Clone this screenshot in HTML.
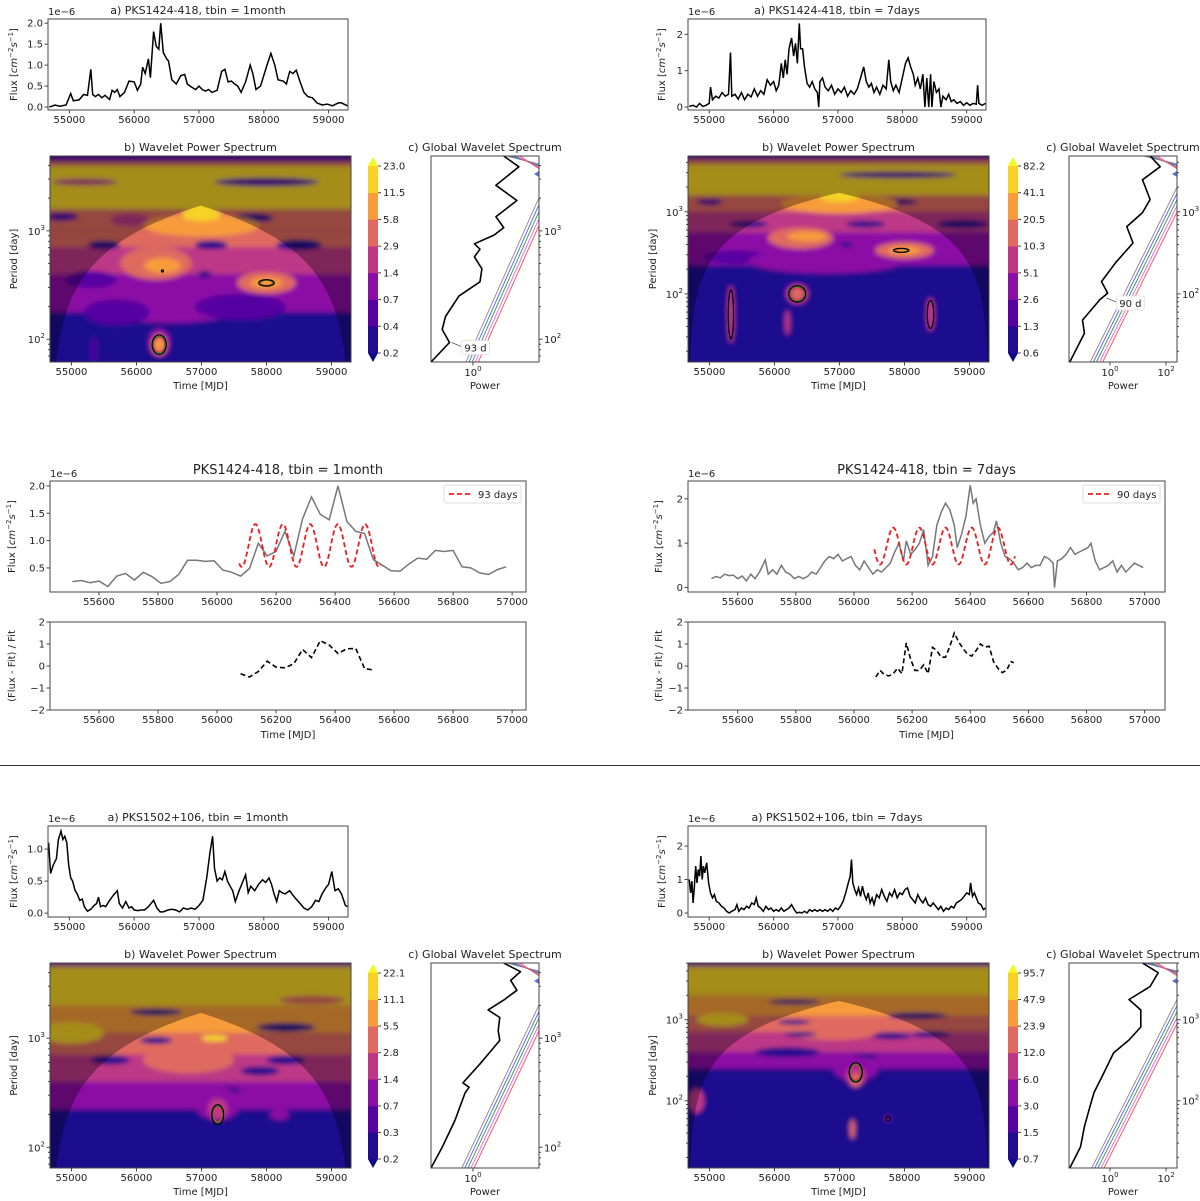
<!DOCTYPE html>
<html><head><meta charset="utf-8"><title>PKS wavelet analysis</title>
<style>
html,body{margin:0;padding:0;background:#fff;}
svg{display:block;font-family:"DejaVu Sans","Liberation Sans",sans-serif;}
</style></head>
<body>
<svg id="fig" width="1200" height="1201" viewBox="0 0 1200 1201" xmlns="http://www.w3.org/2000/svg">
<defs><filter id="blr" x="-50%" y="-50%" width="200%" height="200%"><feGaussianBlur stdDeviation="2.5"/></filter></defs>
<rect x="0" y="0" width="1200" height="1201" fill="#fff"/>
</svg>
<script>
// ---------------- DATA ----------------
const timeTicks=[55000,56000,57000,58000,59000];
const tlFluxPts=[[54690,0.0],[54780,0.05],[54850,0.02],[54950,0.05],[55020,0.32],[55060,0.15],[55150,0.17],[55220,0.3],[55280,0.28],[55330,0.9],[55360,0.3],[55400,0.25],[55450,0.3],[55500,0.22],[55550,0.28],[55620,0.18],[55660,0.4],[55700,0.35],[55740,0.42],[55780,0.25],[55850,0.35],[55920,0.62],[56000,0.6],[56050,0.4],[56100,0.55],[56130,0.95],[56170,0.8],[56220,1.15],[56250,0.7],[56300,1.8],[56340,1.45],[56380,1.38],[56410,2.0],[56450,1.3],[56500,1.15],[56530,1.1],[56580,0.65],[56650,0.55],[56720,0.75],[56780,0.78],[56820,0.55],[56880,0.48],[56950,0.42],[57000,0.5],[57050,0.42],[57100,0.38],[57150,0.42],[57200,0.35],[57280,0.4],[57350,0.85],[57400,0.9],[57450,0.6],[57500,0.62],[57550,0.55],[57600,0.5],[57650,0.35],[57720,0.6],[57790,1.0],[57830,0.8],[57880,0.42],[57950,0.5],[58050,1.0],[58110,1.28],[58170,1.0],[58220,0.65],[58300,0.62],[58350,0.55],[58400,0.85],[58450,0.8],[58500,0.88],[58560,0.6],[58620,0.35],[58680,0.25],[58750,0.22],[58820,0.1],[58900,0.05],[58980,0.07],[59060,0.03],[59150,0.1],[59200,0.1],[59290,0.03]];
const trFluxPts=[[54690,0.02],[54750,0.05],[54800,0.0],[54850,0.1],[54900,0.02],[54950,0.05],[55000,0.1],[55020,0.55],[55050,0.2],[55100,0.3],[55150,0.25],[55200,0.4],[55250,0.3],[55300,0.35],[55330,1.5],[55350,0.3],[55400,0.35],[55450,0.22],[55500,0.4],[55550,0.2],[55600,0.35],[55650,0.28],[55700,0.5],[55750,0.3],[55800,0.45],[55850,0.35],[55900,0.75],[55950,0.6],[56000,0.7],[56040,0.45],[56080,0.6],[56120,1.2],[56150,0.8],[56180,1.3],[56210,0.9],[56240,1.6],[56280,1.9],[56310,1.4],[56340,1.75],[56370,1.2],[56400,2.3],[56420,1.6],[56450,1.6],[56480,1.1],[56520,0.65],[56560,0.55],[56600,0.7],[56640,0.5],[56680,0.4],[56700,0.0],[56720,0.7],[56760,0.8],[56800,0.55],[56850,0.45],[56900,0.6],[56950,0.35],[57000,0.5],[57050,0.4],[57100,0.55],[57150,0.3],[57200,0.45],[57250,0.35],[57300,0.5],[57350,0.8],[57400,1.1],[57440,0.7],[57480,0.55],[57520,0.65],[57560,0.4],[57600,0.55],[57650,0.35],[57700,0.6],[57750,0.5],[57790,1.3],[57820,0.7],[57860,0.45],[57900,0.6],[57950,0.4],[58000,0.8],[58050,1.2],[58090,1.35],[58130,1.1],[58170,0.9],[58200,0.6],[58240,0.8],[58280,0.5],[58320,0.9],[58350,0.0],[58380,0.8],[58410,0.0],[58440,0.9],[58460,0.0],[58490,0.7],[58530,0.4],[58570,0.5],[58600,0.0],[58630,0.3],[58680,0.2],[58720,0.35],[58760,0.15],[58800,0.2],[58850,0.1],[58900,0.15],[58950,0.05],[59000,0.12],[59050,0.05],[59100,0.1],[59150,0.08],[59170,0.6],[59190,0.1],[59240,0.05],[59290,0.1]];
const blFluxPts=[[54680,1.1],[54710,0.62],[54750,0.75],[54800,0.85],[54830,1.15],[54870,1.28],[54900,1.15],[54930,1.2],[54960,1.1],[54990,0.75],[55020,0.55],[55050,0.5],[55090,0.35],[55120,0.3],[55160,0.2],[55200,0.22],[55230,0.1],[55280,0.03],[55330,0.06],[55380,0.12],[55420,0.15],[55450,0.25],[55480,0.1],[55520,0.12],[55560,0.1],[55620,0.2],[55680,0.28],[55740,0.35],[55770,0.15],[55820,0.08],[55870,0.18],[55920,0.08],[55960,0.1],[56000,0.05],[56060,0.04],[56100,0.05],[56160,0.05],[56220,0.1],[56300,0.2],[56350,0.08],[56400,0.02],[56450,0.02],[56520,0.05],[56580,0.06],[56640,0.05],[56700,0.02],[56760,0.08],[56820,0.06],[56880,0.08],[56940,0.06],[57000,0.12],[57060,0.2],[57120,0.55],[57170,0.95],[57210,1.2],[57240,0.7],[57280,0.5],[57320,0.55],[57360,0.52],[57400,0.65],[57440,0.5],[57480,0.42],[57520,0.35],[57560,0.18],[57620,0.35],[57680,0.5],[57720,0.6],[57760,0.32],[57800,0.42],[57860,0.35],[57920,0.45],[57980,0.52],[58030,0.48],[58080,0.55],[58120,0.45],[58160,0.3],[58200,0.18],[58240,0.35],[58280,0.32],[58330,0.3],[58400,0.35],[58450,0.28],[58500,0.22],[58560,0.15],[58620,0.08],[58680,0.05],[58740,0.1],[58800,0.2],[58850,0.18],[58900,0.3],[58960,0.4],[59000,0.45],[59050,0.65],[59100,0.35],[59150,0.38],[59200,0.3],[59260,0.12],[59300,0.1]];
const brFluxPts=[[54690,1.0],[54710,0.6],[54730,0.95],[54750,0.3],[54770,0.8],[54790,1.4],[54810,0.9],[54830,1.3],[54850,1.1],[54870,1.7],[54890,1.0],[54910,1.4],[54930,1.2],[54960,1.5],[54990,0.9],[55020,0.6],[55050,0.45],[55080,0.55],[55110,0.35],[55150,0.3],[55190,0.2],[55230,0.15],[55270,0.05],[55310,0.0],[55350,0.05],[55400,0.1],[55430,0.25],[55460,0.05],[55500,0.15],[55540,0.1],[55580,0.2],[55620,0.15],[55660,0.3],[55700,0.25],[55730,0.45],[55760,0.2],[55800,0.15],[55840,0.05],[55880,0.2],[55920,0.1],[55960,0.15],[56000,0.05],[56040,0.1],[56080,0.05],[56120,0.15],[56160,0.05],[56200,0.1],[56240,0.15],[56280,0.25],[56320,0.1],[56360,0.0],[56400,0.02],[56440,0.0],[56480,0.05],[56520,0.0],[56560,0.1],[56600,0.05],[56640,0.1],[56680,0.05],[56720,0.1],[56760,0.05],[56800,0.1],[56840,0.05],[56880,0.12],[56920,0.05],[56960,0.15],[57000,0.1],[57040,0.2],[57080,0.35],[57120,0.6],[57160,0.9],[57190,1.1],[57210,1.6],[57230,0.9],[57260,0.7],[57290,0.55],[57320,0.75],[57350,0.5],[57380,0.8],[57410,0.55],[57440,0.4],[57470,0.6],[57500,0.3],[57530,0.45],[57560,0.25],[57600,0.55],[57640,0.45],[57680,0.7],[57720,0.5],[57760,0.35],[57800,0.6],[57840,0.5],[57880,0.7],[57920,0.45],[57960,0.6],[58000,0.55],[58040,0.7],[58080,0.75],[58120,0.5],[58160,0.4],[58200,0.3],[58240,0.55],[58280,0.4],[58320,0.3],[58360,0.45],[58400,0.25],[58440,0.2],[58480,0.3],[58520,0.2],[58560,0.1],[58600,0.2],[58640,0.05],[58680,0.15],[58720,0.1],[58760,0.2],[58800,0.15],[58840,0.3],[58880,0.35],[58920,0.4],[58960,0.5],[59000,0.6],[59040,0.55],[59060,0.9],[59090,0.5],[59120,0.6],[59150,0.45],[59180,0.3],[59220,0.25],[59260,0.1],[59290,0.15]];

const midTicks=[55600,55800,56000,56200,56400,56600,56800,57000];
const midLFlux=[[55510,0.25],[55540,0.27],[55570,0.23],[55600,0.26],[55630,0.16],[55660,0.35],[55690,0.40],[55720,0.28],[55750,0.42],[55780,0.34],[55810,0.22],[55840,0.25],[55870,0.38],[55900,0.64],[55930,0.64],[55960,0.62],[55990,0.63],[56020,0.46],[56050,0.42],[56080,0.35],[56110,0.49],[56140,0.95],[56170,0.72],[56200,0.80],[56230,1.17],[56260,0.72],[56290,1.40],[56320,1.80],[56350,1.48],[56380,1.38],[56410,2.0],[56440,1.35],[56470,1.17],[56500,1.13],[56530,0.65],[56560,0.55],[56590,0.45],[56620,0.44],[56650,0.57],[56680,0.68],[56710,0.66],[56740,0.82],[56770,0.80],[56800,0.82],[56830,0.52],[56860,0.50],[56890,0.41],[56920,0.38],[56950,0.47],[56980,0.52]];
const midRFlux=[[55510,0.2],[55525,0.25],[55540,0.22],[55555,0.3],[55570,0.27],[55585,0.28],[55600,0.2],[55615,0.26],[55630,0.15],[55645,0.3],[55660,0.2],[55675,0.35],[55695,0.62],[55705,0.3],[55720,0.4],[55735,0.3],[55750,0.5],[55765,0.35],[55780,0.3],[55795,0.2],[55810,0.25],[55825,0.2],[55840,0.25],[55855,0.35],[55870,0.3],[55885,0.45],[55900,0.6],[55915,0.7],[55930,0.65],[55945,0.75],[55960,0.6],[55975,0.65],[55990,0.7],[56005,0.5],[56020,0.4],[56035,0.6],[56050,0.45],[56065,0.3],[56080,0.4],[56095,0.35],[56110,0.45],[56125,0.55],[56140,0.8],[56155,1.0],[56170,0.6],[56180,1.05],[56195,0.75],[56210,0.85],[56225,1.0],[56240,1.3],[56255,0.5],[56270,0.7],[56285,1.4],[56300,1.7],[56315,1.9],[56330,1.75],[56345,1.4],[56355,0.9],[56370,1.2],[56385,1.6],[56400,2.3],[56410,1.9],[56420,2.0],[56435,1.4],[56450,1.0],[56465,1.15],[56480,1.25],[56490,1.5],[56505,1.0],[56520,0.7],[56535,0.65],[56550,0.55],[56565,0.4],[56580,0.45],[56595,0.55],[56610,0.45],[56625,0.5],[56640,0.5],[56655,0.7],[56670,0.65],[56685,0.55],[56690,0.0],[56700,0.6],[56715,0.65],[56730,0.75],[56745,0.9],[56760,0.75],[56775,0.8],[56790,0.85],[56805,0.9],[56815,1.0],[56830,0.6],[56845,0.4],[56860,0.45],[56875,0.5],[56890,0.6],[56905,0.35],[56920,0.5],[56935,0.35],[56950,0.45],[56965,0.55],[56980,0.5],[56995,0.45]];
// sinusoid fits: [period, min, max, peakTime, tStart, tEnd]
const fitL=[93,0.52,1.30,56130,56075,56555];
const fitR=[90,0.52,1.35,56135,56070,56555];
const resL=[[56080,-0.35],[56110,-0.5],[56140,-0.25],[56170,0.22],[56200,-0.05],[56230,-0.08],[56260,0.1],[56290,0.75],[56320,0.38],[56350,1.15],[56380,0.95],[56410,0.57],[56440,0.78],[56470,0.8],[56500,-0.12],[56530,-0.18]];
const resR=[[56075,-0.5],[56090,-0.2],[56105,-0.4],[56120,-0.45],[56135,-0.35],[56150,-0.1],[56165,-0.35],[56180,1.05],[56195,0.3],[56210,-0.2],[56225,-0.2],[56240,0.05],[56255,-0.35],[56270,0.85],[56285,0.7],[56300,0.4],[56315,0.4],[56330,0.9],[56345,1.5],[56360,1.1],[56375,0.8],[56390,0.55],[56405,0.45],[56420,0.7],[56435,1.0],[56450,0.85],[56465,0.9],[56480,0.2],[56495,-0.1],[56510,-0.3],[56525,-0.2],[56540,0.2],[56550,0.15]];

// colorbar labels
const cbTL=['0.2','0.4','0.7','1.4','2.9','5.8','11.5','23.0'];
const cbTR=['0.6','1.3','2.6','5.1','10.3','20.5','41.1','82.2'];
const cbBL=['0.2','0.3','0.7','1.4','2.8','5.5','11.1','22.1'];
const cbBR=['0.7','1.5','3.0','6.0','12.0','23.9','47.9','95.7'];

// wavelet bands [logPlow, logPhigh, level] and blobs [t, logP, halfWidthDays, halfHeightDecades, level]
const bandsTL=[[1.7,2.25,0],[2.25,2.6,2],[2.6,2.9,3],[2.85,3.0,4],[3.0,3.2,4],[3.2,3.6,6],[3.6,3.64,4],[3.64,3.8,1]];
const blobsTL=[[58000,3.45,800,0.04,1],[55200,3.45,500,0.03,3],[54850,3.13,250,0.04,1],[57800,3.12,300,0.04,0],[55900,3.1,300,0.06,3],[57000,3.05,900,0.1,5],[57000,3.15,300,0.06,6],[55500,2.87,250,0.04,0],[57150,2.87,250,0.04,0],[58500,2.87,350,0.05,0],[55300,2.55,400,0.08,1],[56500,2.35,1300,0.2,2],[57600,2.3,700,0.12,1],[55700,2.25,500,0.12,1],[56300,2.7,550,0.15,4],[56400,2.68,280,0.07,5],[58000,2.52,450,0.1,4],[58000,2.52,250,0.05,5],[57050,2.6,100,0.03,0],[56350,1.97,170,0.13,2],[56350,1.95,120,0.1,4],[56350,1.95,70,0.05,5],[55350,1.9,40,0.12,1]];
const bandsTR=[[1.1,2.35,0],[2.35,2.75,2],[2.75,3.0,3],[3.0,3.2,4],[3.2,3.58,6],[3.58,3.64,4],[3.64,3.8,1]];
const blobsTR=[[57900,3.45,900,0.04,1],[55000,3.12,200,0.04,1],[57800,3.12,400,0.04,0],[57000,3.1,900,0.12,5],[57000,3.18,300,0.06,6],[55600,2.85,300,0.04,0],[57400,2.85,300,0.04,0],[58900,2.85,400,0.05,0],[55400,2.45,500,0.08,1],[56800,2.4,1200,0.15,2],[56400,2.68,500,0.13,4],[56500,2.7,300,0.06,5],[58000,2.53,450,0.1,4],[58000,2.53,250,0.05,5],[57100,2.6,100,0.03,0],[56350,2.0,170,0.12,3],[56350,2.0,90,0.07,4],[55330,1.75,50,0.35,3],[58400,1.75,60,0.2,3],[56200,1.65,40,0.15,3]];
const bandsBL=[[1.7,2.35,0],[2.35,2.6,2],[2.6,2.85,3],[2.85,3.05,4],[3.05,3.3,5],[3.3,3.66,6],[3.66,3.8,2]];
const blobsBL=[[56300,3.24,400,0.03,0],[58300,3.1,450,0.04,0],[58700,3.35,500,0.04,4],[56300,2.98,250,0.03,0],[55000,3.05,500,0.1,6],[57200,3.0,200,0.03,6],[56800,2.8,700,0.12,4],[55600,2.8,300,0.04,0],[58300,2.8,300,0.04,0],[57900,2.7,300,0.04,0],[57400,2.52,200,0.03,0],[57250,2.4,350,0.15,2],[57250,2.35,150,0.1,3],[58200,2.3,150,0.05,2]];
const bandsBR=[[1.1,2.4,0],[2.4,2.6,2],[2.6,2.85,3],[2.85,3.05,4],[3.05,3.3,5],[3.3,3.66,6],[3.66,3.8,2]];
const blobsBR=[[56300,3.22,400,0.03,0],[58200,3.05,450,0.04,0],[56300,2.97,250,0.03,0],[55200,3.0,400,0.08,6],[56900,2.85,700,0.1,4],[56400,2.82,250,0.03,0],[57800,2.8,300,0.04,0],[58400,2.82,300,0.04,0],[56200,2.6,500,0.06,0],[57400,2.55,200,0.03,0],[57250,2.4,350,0.15,2],[57250,2.3,150,0.12,3],[57250,2.25,80,0.08,4],[54800,2.0,120,0.15,3],[57200,1.65,40,0.12,4],[57750,1.78,40,0.03,2]];
// significance contours [t, logP, halfWidthDays, halfHeightDecades]
const contTL=[[58000,2.52,120,0.03],[56350,1.95,110,0.09],[56400,2.63,15,0.01]];
const contTR=[[57950,2.53,120,0.025],[55330,1.75,40,0.3],[56350,2.0,130,0.1],[58400,1.75,50,0.17]];
const contBL=[[57250,2.3,90,0.09]];
const contBR=[[57250,2.35,100,0.12],[57750,1.78,30,0.03]];

// global wavelet spectra [log10 power, log10 period]
const gwsTL=[[-1.5,1.79],[-0.84,1.97],[-1.1,2.09],[-0.98,2.21],[-0.5,2.40],[0.25,2.53],[0.32,2.65],[0.05,2.76],[0.25,2.83],[0.05,2.88],[0.75,2.96],[1.1,3.03],[0.82,3.13],[1.57,3.28],[0.82,3.42],[1.64,3.59],[1.1,3.69]];
const gwsTR=[[-1.43,1.17],[-0.91,1.52],[-0.98,1.68],[-0.36,1.93],[-0.08,2.01],[-0.3,2.15],[0.2,2.38],[0.82,2.62],[0.6,2.82],[1.16,2.99],[1.43,3.15],[1.16,3.39],[1.79,3.55],[1.43,3.68]];
const gwsBL=[[-1.5,1.81],[-1.1,2.0],[-0.64,2.25],[-0.28,2.5],[-0.14,2.55],[-0.36,2.59],[0.27,2.77],[0.96,2.98],[0.9,3.07],[0.96,3.19],[0.54,3.26],[1.1,3.35],[1.57,3.44],[1.35,3.53],[1.7,3.61],[1.1,3.69]];
const gwsBR=[[-1.43,1.17],[-1.05,1.43],[-0.91,1.68],[-0.71,1.93],[-0.57,2.1],[-0.21,2.35],[0.13,2.59],[0.68,2.75],[1.1,2.91],[1.1,3.12],[0.68,3.25],[1.43,3.41],[1.72,3.58],[1.16,3.70]];
// significance line endpoints [lpA, logPA, lpB, logPB]
const sigTL=[-0.25,1.79,2.35,3.3];
const sigTR=[-0.7,1.17,2.39,3.3];
const sigBL=[-0.4,1.81,2.35,3.3];
const sigBR=[-0.65,1.17,2.39,3.25];

// ---------------- DRAW ----------------
const NS='http://www.w3.org/2000/svg';
const svg=document.getElementById('fig');
const LEV=['#1f0c8e','#5602a3','#8c0fa5','#bd3786','#e06a5e','#f89c3b','#f5d225'];
const SIGC=['#888888','#5a5aff','#2fa02f','#ff55ff','#ff4c4c'];
function mk(tag,attrs,parent){const e=document.createElementNS(NS,tag);for(const k in attrs)e.setAttribute(k,attrs[k]);(parent||svg).appendChild(e);return e;}
function lin(d0,d1,p0,p1){return v=>p0+(v-d0)/(d1-d0)*(p1-p0);}
function txt(parent,x,y,html,size,anchor,extra){const t=mk('text',Object.assign({x:x,y:y,'font-size':size||10,'text-anchor':anchor||'middle',fill:'#222'},extra||{}),parent);t.innerHTML=html;return t;}
function pow10(e){return '10<tspan dy="-5" font-size="7">'+e+'</tspan>';}
const FLUXLBL='Flux [<tspan font-style="italic">cm</tspan><tspan dy="-4" font-size="7">−2</tspan><tspan dy="4" font-style="italic">s</tspan><tspan dy="-4" font-size="7">−1</tspan><tspan dy="4">]</tspan>';
function frame(g,b){const r=mk('rect',{x:b[0],y:b[1],width:b[2]-b[0],height:b[3]-b[1],fill:'none',stroke:'#444','stroke-width':1},g);return r;}
function xTicks(g,sx,ticks,yb,labels){ticks.forEach((t,i)=>{const x=sx(t);mk('line',{x1:x,x2:x,y1:yb,y2:yb+3.5,stroke:'#444'},g);txt(g,x,yb+13,labels?labels[i]:String(t),10);});}
function yTicks(g,sy,ticks,xl,labels){ticks.forEach((v,i)=>{const y=sy(v);mk('line',{x1:xl,x2:xl-3.5,y1:y,y2:y,stroke:'#444'},g);txt(g,xl-5,y+3.5,labels[i],10,'end');});}
function pathD(pts,sx,sy){return pts.map((p,i)=>(i?'L':'M')+sx(p[0]).toFixed(1)+','+sy(p[1]).toFixed(1)).join(' ');}
let clipId=0;
function clip(g,b){const id='c'+(clipId++);const cp=mk('clipPath',{id:id},g);mk('rect',{x:b[0],y:b[1],width:b[2]-b[0],height:b[3]-b[1]},cp);return 'url(#'+id+')';}

function drawTS(name,b,yr,yt,ytl,pts,title,lblX){
  const g=mk('g',{});
  
  
  const sx=lin(54670,59300,b[0],b[2]);const sy=lin(yr[0],yr[1],b[3],b[1]);
  const ln=mk('path',{d:pathD(pts,sx,sy),fill:'none',stroke:'#000','stroke-width':1.5,'clip-path':clip(g,b)},g);
  
  
  frame(g,b);xTicks(g,sx,timeTicks,b[3]);yTicks(g,sy,yt,b[0],ytl);
  txt(g,b[0],b[1]-4,'1e−6',10,'start');
  const tt=txt(g,(b[0]+b[2])/2,b[1]-5,title,11);
  
  
  const yl=txt(g,0,0,FLUXLBL,10,'middle',{transform:'translate('+lblX+','+((b[1]+b[3])/2)+') rotate(-90)'});
  
  
}

function drawWavelet(name,b,lpr,bands,blobs,conts,cbx,cbl,lblX){
  const g=mk('g',{});
  
  
  const sx=lin(54670,59300,b[0],b[2]);const sy=lin(lpr[0],lpr[1],b[3],b[1]);
  const pxd=(b[2]-b[0])/(59300-54670);const pxl=(b[3]-b[1])/(lpr[1]-lpr[0]);
  const inner=mk('g',{'clip-path':clip(g,b)},g);
  mk('rect',{x:b[0],y:b[1],width:b[2]-b[0],height:b[3]-b[1],fill:LEV[0]},inner);
  const bl=mk('g',{filter:'url(#blr)'},inner);
  bands.forEach(d=>{const r=mk('rect',{x:b[0]-20,y:sy(d[1]),width:b[2]-b[0]+40,height:sy(d[0])-sy(d[1]),fill:LEV[d[2]]},bl);
    
    });
  blobs.forEach(d=>{const e=mk('ellipse',{cx:sx(d[0]),cy:sy(d[1]),rx:d[2]*pxd,ry:d[3]*pxl,fill:LEV[d[4]]},bl);
    
    });
  conts.forEach(d=>{
    ['#ff2b4a','#2a8a2a'].forEach((c,k)=>{if(d[2]>50)mk('ellipse',{cx:sx(d[0]),cy:sy(d[1]),rx:d[2]*pxd*(0.75+0.1*k),ry:d[3]*pxl*(0.75+0.1*k),fill:'none',stroke:c,'stroke-width':1},inner);});
    const e=mk('ellipse',{cx:sx(d[0]),cy:sy(d[1]),rx:d[2]*pxd,ry:d[3]*pxl,fill:'none',stroke:'#000','stroke-width':1.2},inner);
    
    
  });
  const k=0.739,ts=54680,te=59300;let d='M'+(b[0]-2)+','+(b[1]-2)+' L'+(b[0]-2)+','+(b[3]+2);
  for(let t=ts;t<=te;t+=20){const P=k*Math.max(1,Math.min(t-ts,te-t));const lp=Math.max(Math.log10(P),lpr[0]-0.2);d+=' L'+sx(t).toFixed(1)+','+Math.min(sy(lp),b[3]+2).toFixed(1);}
  d+=' L'+(b[2]+2)+','+(b[3]+2)+' L'+(b[2]+2)+','+(b[1]-2)+' Z';
  const coi=mk('path',{d:d,fill:'#000','fill-opacity':0.33},inner);
  
  
  frame(g,b);xTicks(g,sx,timeTicks,b[3]);
  [2,3].forEach(e=>{const y=sy(e);if(y>=b[1]&&y<=b[3]){mk('line',{x1:b[0],x2:b[0]-3.5,y1:y,y2:y,stroke:'#444'},g);txt(g,b[0]-5,y+4,pow10(e),10,'end');}});
  for(let e=1;e<4;e++)for(let m=2;m<10;m++){const y=sy(e+Math.log10(m));if(y>=b[1]&&y<=b[3])mk('line',{x1:b[0],x2:b[0]-2,y1:y,y2:y,stroke:'#444'},g);}
  const tt=txt(g,(b[0]+b[2])/2,b[1]-5,'b) Wavelet Power Spectrum',11);
  
  
  txt(g,(b[0]+b[2])/2,b[3]+27,'Time [MJD]',10);
  txt(g,0,0,'Period [day]',10,'middle',{transform:'translate('+lblX+','+((b[1]+b[3])/2)+') rotate(-90)'});
  const cg=mk('g',{},g);
  
  
  const top=b[1]+1,bot=b[3],r0=top+9,r1=bot-9,h=(r1-r0)/7,w=10;
  mk('path',{d:'M'+cbx+','+r0+' L'+(cbx+w/2)+','+top+' L'+(cbx+w)+','+r0+'Z',fill:'#f0f921'},cg);
  mk('path',{d:'M'+cbx+','+r1+' L'+(cbx+w/2)+','+bot+' L'+(cbx+w)+','+r1+'Z',fill:'#0d0887'},cg);
  for(let i=0;i<7;i++)mk('rect',{x:cbx,y:r1-(i+1)*h,width:w,height:h+0.3,fill:LEV[i]},cg);
  cbl.forEach((l,i)=>{const y=r1-i*h;mk('line',{x1:cbx+w,x2:cbx+w+3,y1:y,y2:y,stroke:'#444'},cg);txt(cg,cbx+w+5,y+3.5,l,10,'start');});
}

function drawGWS(name,b,lpr,lpx,pts,sig,ann,xt){
  const g=mk('g',{});
  
  
  const sx=lin(lpx[0],lpx[1],b[0],b[2]);const sy=lin(lpr[0],lpr[1],b[3],b[1]);
  const inner=mk('g',{'clip-path':clip(g,b)},g);
  SIGC.forEach((c,i)=>{const o=i*0.11;const l=mk('line',{x1:sx(sig[0]+o),y1:sy(sig[1]),x2:sx(sig[2]+o),y2:sy(sig[3]),stroke:c,'stroke-width':0.9},inner);
    
    });
  SIGC.forEach((c,i)=>{mk('line',{x1:sx(1.2+i*0.12),y1:b[1],x2:b[2],y2:b[1]+8+i*1.2,stroke:c,'stroke-width':0.9},inner);});
  mk('path',{d:'M'+b[2]+','+(b[1]+15)+' l-5,3 l5,3 Z',fill:'#5a6fd0'},inner);
  const cur=mk('path',{d:pathD(pts,sx,sy),fill:'none',stroke:'#000','stroke-width':1.6,'stroke-linejoin':'round'},inner);
  
  
  frame(g,b);
  xt.forEach(e=>{const x=sx(e);mk('line',{x1:x,x2:x,y1:b[3],y2:b[3]+3.5,stroke:'#444'},g);txt(g,x,b[3]+14,pow10(e),10);});
  [2,3].forEach(e=>{const y=sy(e);mk('line',{x1:b[2],x2:b[2]+3.5,y1:y,y2:y,stroke:'#444'},g);txt(g,b[2]+5,y+4,pow10(e),10,'start');});
  for(let e=1;e<4;e++)for(let m=2;m<10;m++){const y=sy(e+Math.log10(m));if(y>=b[1]&&y<=b[3])mk('line',{x1:b[2],x2:b[2]+2,y1:y,y2:y,stroke:'#444'},g);}
  txt(g,(b[0]+b[2])/2,b[1]-5,'c) Global Wavelet Spectrum',11);
  txt(g,(b[0]+b[2])/2,b[3]+27,'Power',10);
  if(ann){const ax=sx(ann[0]),ay=sy(ann[1]);
    mk('line',{x1:ax+12,y1:ay+4,x2:ax+2,y2:ay,stroke:'#555','stroke-width':0.8},g);
    mk('rect',{x:ax+12,y:ay-2,width:28,height:14,fill:'#fff',stroke:'#ddd','stroke-width':0.8,rx:2},g);
    const a=txt(g,ax+26,ay+9,ann[2],10);
    
    }
}

function drawMid(name,b,rb,xr,yr,yt,ytl,pts,fit,res,title,legend,lblX){
  const g=mk('g',{});
  
  
  const sx=lin(xr[0],xr[1],b[0],b[2]);const sy=lin(yr[0],yr[1],b[3],b[1]);
  const gl=mk('path',{d:pathD(pts,sx,sy),fill:'none',stroke:'#777','stroke-width':1.5},g);
  
  
  const fp=[];const mid=(fit[1]+fit[2])/2,amp=(fit[2]-fit[1])/2;
  for(let t=fit[4];t<=fit[5];t+=2)fp.push([t,mid+amp*Math.cos(2*Math.PI*(t-fit[3])/fit[0])]);
  const fl=mk('path',{d:pathD(fp,sx,sy),fill:'none',stroke:'#ee1c1c','stroke-width':1.8,'stroke-dasharray':'5,3'},g);
  
  
  frame(g,b);xTicks(g,sx,midTicks,b[3]);yTicks(g,sy,yt,b[0],ytl);
  txt(g,b[0],b[1]-4,'1e−6',10,'start');
  const tt=txt(g,(b[0]+b[2])/2,b[1]-7,title,13);
  
  
  txt(g,0,0,FLUXLBL,10,'middle',{transform:'translate('+lblX+','+((b[1]+b[3])/2)+') rotate(-90)'});
  const lg=mk('g',{},g);
  
  
  mk('rect',{x:b[2]-82,y:b[1]+4,width:77,height:18,fill:'#fff',stroke:'#ddd',rx:2},lg);
  mk('line',{x1:b[2]-77,x2:b[2]-54,y1:b[1]+13,y2:b[1]+13,stroke:'#ee1c1c','stroke-width':1.8,'stroke-dasharray':'5,3'},lg);
  txt(lg,b[2]-48,b[1]+17,legend,10,'start');
  const ry=lin(-2,2,rb[3],rb[1]);
  const rl=mk('path',{d:pathD(res,sx,ry),fill:'none',stroke:'#000','stroke-width':1.6,'stroke-dasharray':'5,3'},g);
  
  
  frame(g,rb);xTicks(g,sx,midTicks,rb[3]);yTicks(g,ry,[-2,-1,0,1,2],rb[0],['−2','−1','0','1','2']);
  txt(g,(rb[0]+rb[2])/2,rb[3]+28,'Time [MJD]',10);
  txt(g,0,0,'(Flux - Fit) / Fit',10,'middle',{transform:'translate('+lblX+','+((rb[1]+rb[3])/2)+') rotate(-90)'});
}

drawTS('light-curve-tl',[48,19,348,110],[-0.07,2.1],[0,0.5,1,1.5,2],['0.0','0.5','1.0','1.5','2.0'],tlFluxPts,'a) PKS1424-418, tbin = 1month',17);
drawTS('light-curve-tr',[688,19,986,110],[-0.08,2.42],[0,1,2],['0','1','2'],trFluxPts,'a) PKS1424-418, tbin = 7days',665);
drawWavelet('wavelet-tl',[50,156,351,362],[1.79,3.69],bandsTL,blobsTL,contTL,368,cbTL,17);
drawWavelet('wavelet-tr',[688,156,989,362],[1.17,3.68],bandsTR,blobsTR,contTR,1008,cbTR,656);
drawGWS('global-spectrum-tl',[431,156,539,362],[1.79,3.69],[-1.5,2.36],gwsTL,sigTL,[-0.84,1.97,'93 d'],[0]);
drawGWS('global-spectrum-tr',[1069,156,1177,362],[1.17,3.68],[-1.46,2.39],gwsTR,sigTR,[-0.2,1.95,'90 d'],[0,2]);
drawMid('fit-panel-left',[50,481,526,592],[50,622,526,710],[55434,57047],[0.06,2.09],[0.5,1,1.5,2],['0.5','1.0','1.5','2.0'],midLFlux,fitL,resL,'PKS1424-418, tbin = 1month','93 days',15);
drawMid('fit-panel-right',[688,481,1165,592],[688,622,1165,710],[55429,57070],[-0.1,2.4],[0,1,2],['0','1','2'],midRFlux,fitR,resR,'PKS1424-418, tbin = 7days','90 days',662);
const sep=mk('line',{x1:0,x2:1200,y1:765.5,y2:765.5,stroke:'#333','stroke-width':1});


drawTS('light-curve-bl',[48,826,348,917],[-0.06,1.36],[0,0.5,1.0],['0.0','0.5','1.0'],blFluxPts,'a) PKS1502+106, tbin = 1month',17);
drawTS('light-curve-br',[688,826,986,917],[-0.12,2.6],[0,1,2],['0','1','2'],brFluxPts,'a) PKS1502+106, tbin = 7days',665);
drawWavelet('wavelet-bl',[50,963,351,1168],[1.81,3.69],bandsBL,blobsBL,contBL,368,cbBL,17);
drawWavelet('wavelet-br',[688,963,989,1168],[1.17,3.70],bandsBR,blobsBR,contBR,1008,cbBR,656);
drawGWS('global-spectrum-bl',[431,963,539,1168],[1.81,3.69],[-1.5,2.36],gwsBL,sigBL,null,[0]);
drawGWS('global-spectrum-br',[1069,963,1177,1168],[1.17,3.70],[-1.46,2.39],gwsBR,sigBR,null,[0,2]);
</script>
</body></html>
